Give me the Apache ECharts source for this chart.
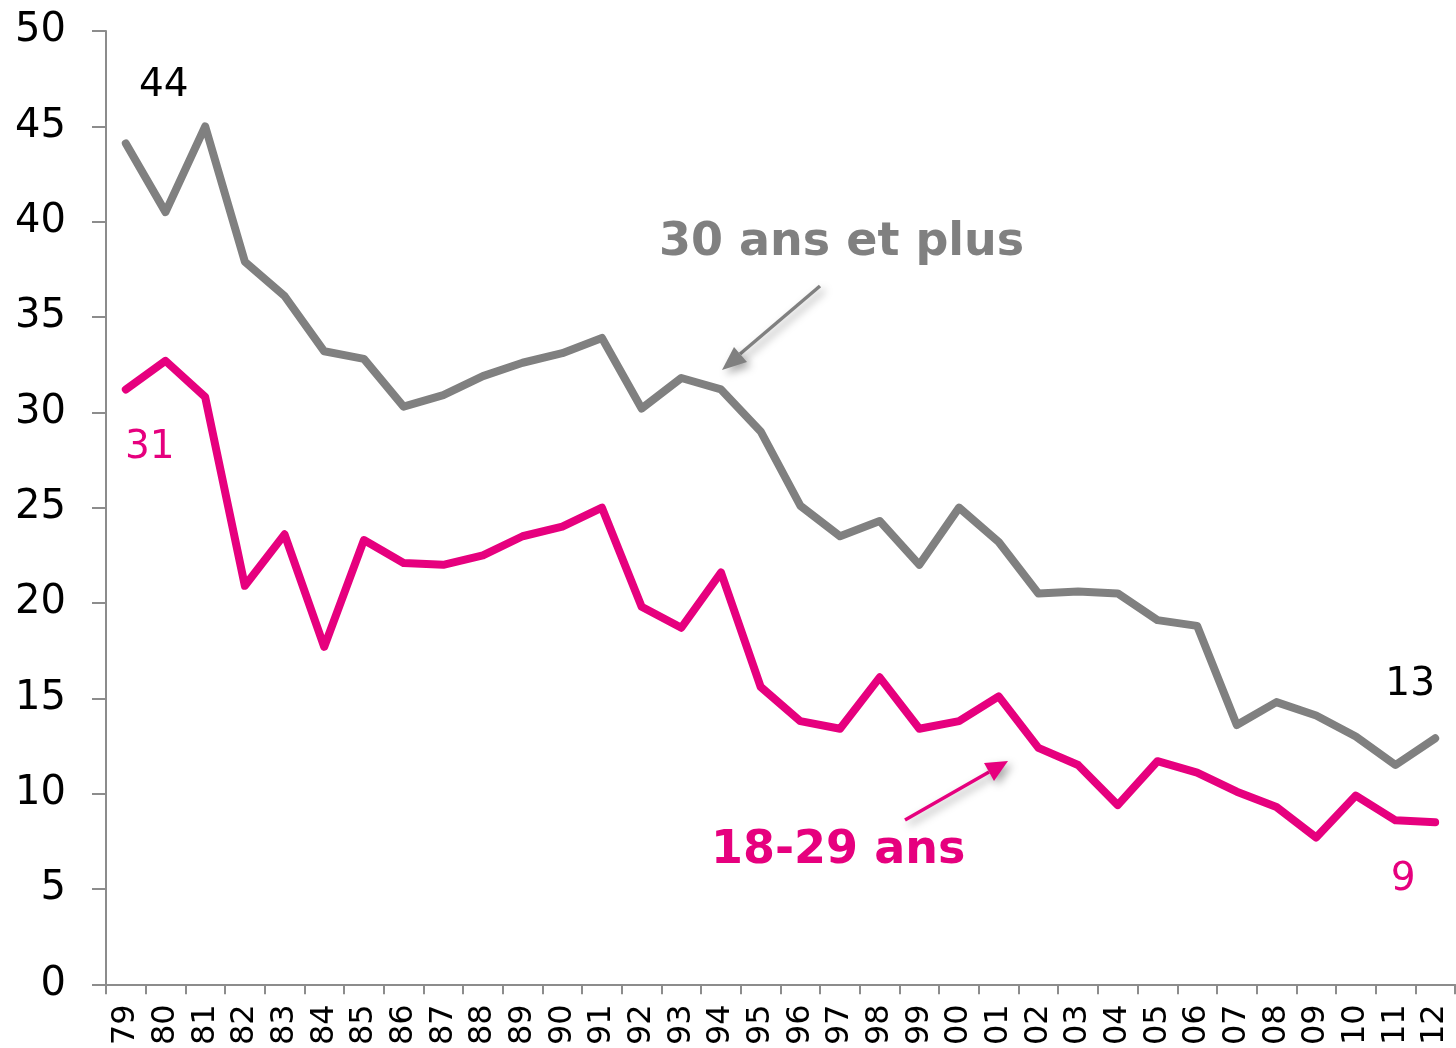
<!DOCTYPE html>
<html>
<head>
<meta charset="utf-8">
<script src="https://cdn.jsdelivr.net/npm/echarts@6/dist/echarts.min.js"></script>
<style>
  html, body { margin: 0; padding: 0; background: #fff; }
  #main { width: 1456px; height: 1048px; }
</style>
</head>
<body>
<div id="main"></div>
<script>
// années (2 chiffres)
var years = ['79','80','81','82','83','84','85','86','87','88','89','90','91','92','93','94','95','96',
             '97','98','99','00','01','02','03','04','05','06','07','08','09','10','11','12'];

// 30 ans et plus
var plus30 = [44.1, 40.5, 45.0, 37.9, 36.1, 33.2, 32.8, 30.3, 30.9, 31.9, 32.6, 33.1, 33.9, 30.2, 31.8, 31.2, 29.0,
              25.1, 23.5, 24.3, 22.0, 25.0, 23.2, 20.5, 20.6, 20.5, 19.1, 18.8, 13.6, 14.8, 14.1, 13.0, 11.5, 12.9];

// 18-29 ans
var ans1829 = [31.2, 32.7, 30.8, 20.9, 23.6, 17.7, 23.3, 22.1, 22.0, 22.5, 23.5, 24.0, 25.0, 19.8, 18.7, 21.6, 15.6,
               13.8, 13.4, 16.1, 13.4, 13.8, 15.1, 12.4, 11.5, 9.4, 11.7, 11.1, 10.1, 9.3, 7.7, 9.9, 8.6, 8.5];

var yTicks = [0, 5, 10, 15, 20, 25, 30, 35, 40, 45, 50];

var GRAY = '#808080';
var PINK = '#E6007E';
var FONT = 'DejaVu Sans';

var chart = echarts.init(document.getElementById('main'));

// étiquettes sur le premier et le dernier point
function withEnds(values, color, firstOff, lastOff) {
  return values.map(function (v, i) {
    if (i === 0 || i === values.length - 1) {
      return {
        value: v,
        label: {
          show: true,
          position: 'inside',
          offset: i === 0 ? firstOff : lastOff,
          formatter: function (p) { return Math.round(p.value); },
          color: color,
          fontFamily: FONT,
          fontSize: 39
        }
      };
    }
    return v;
  });
}

var shadow = { shadowBlur: 8, shadowOffsetX: 4, shadowOffsetY: 4, shadowColor: 'rgba(0,0,0,0.35)' };

var option = {
  animation: false,
  grid: { left: 106, right: 1, top: 31, bottom: 63, containLabel: false },
  xAxis: {
    type: 'category',
    data: years,
    boundaryGap: true,
    axisLine: { lineStyle: { color: '#8c8c8c', width: 2 } },
    axisTick: { show: true, length: 10, inside: false, lineStyle: { color: '#8c8c8c', width: 2 } },
    axisLabel: { rotate: 90, interval: 0, color: '#000', fontFamily: FONT, fontSize: 32, margin: 20 },
    splitLine: { show: false }
  },
  yAxis: {
    type: 'value',
    min: yTicks[0],
    max: yTicks[yTicks.length - 1],
    interval: 5,
    axisLine: { show: true, lineStyle: { color: '#8c8c8c', width: 2 } },
    axisTick: { show: true, length: 14, lineStyle: { color: '#8c8c8c', width: 2 } },
    axisLabel: { color: '#000', fontFamily: FONT, fontSize: 40, margin: 40 },
    splitLine: { show: false }
  },
  series: [
    {
      name: '30 ans et plus',
      type: 'line',
      data: withEnds(plus30, '#000', [38, -58], [-25, -53]),
      symbol: 'circle',
      symbolSize: 2,
      showSymbol: true,
      lineStyle: { color: GRAY, width: 8, cap: 'round', join: 'round' },
      itemStyle: { color: GRAY }
    },
    {
      name: '18-29 ans',
      type: 'line',
      data: withEnds(ans1829, PINK, [24, 58], [-32, 58]),
      symbol: 'circle',
      symbolSize: 2,
      showSymbol: true,
      lineStyle: { color: PINK, width: 8, cap: 'round', join: 'round' },
      itemStyle: { color: PINK }
    }
  ],
  graphic: [
    {
      type: 'text', left: 659, top: 220,
      style: { text: '30 ans et plus', font: 'bold 46px "DejaVu Sans"', fill: GRAY }
    },
    {
      type: 'text', left: 711, top: 828,
      style: { text: '18-29 ans', font: 'bold 46px "DejaVu Sans"', fill: PINK }
    },
    // flèche grise
    {
      type: 'line',
      shape: { x1: 820, y1: 286, x2: 740, y2: 354 },
      style: Object.assign({ stroke: GRAY, lineWidth: 3.5 }, shadow)
    },
    {
      type: 'polygon',
      shape: { points: [[722, 370], [734, 347], [747, 362]] },
      style: Object.assign({ fill: GRAY }, shadow)
    },
    // flèche rose
    {
      type: 'line',
      shape: { x1: 905, y1: 820, x2: 989, y2: 772 },
      style: Object.assign({ stroke: PINK, lineWidth: 3.5 }, shadow)
    },
    {
      type: 'polygon',
      shape: { points: [[1008, 761], [984, 763], [994, 781]] },
      style: Object.assign({ fill: PINK }, shadow)
    }
  ]
};

chart.setOption(option);
</script>
</body>
</html>
